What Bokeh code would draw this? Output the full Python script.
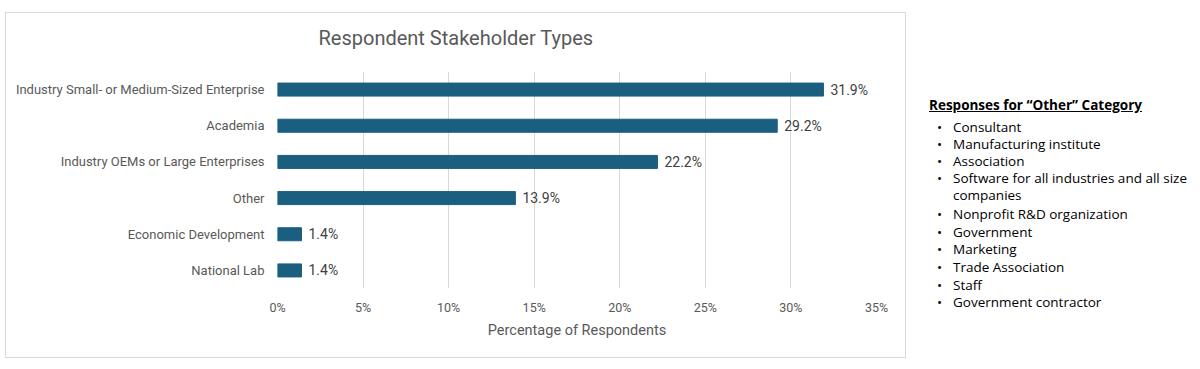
from bokeh.plotting import figure
from bokeh.layouts import row
from bokeh.models import (ColumnDataSource, FactorRange, Range1d, FixedTicker,
                          CustomJSTickFormatter, Div, InlineStyleSheet)
from bokeh.embed import file_html
from bokeh.resources import INLINE
from bokeh.core.properties import value
import html

categories = ["Industry Small- or Medium-Sized Enterprise", "Academia",
              "Industry OEMs or Large Enterprises", "Other",
              "Economic Development", "National Lab"]
percentages = [31.9, 29.2, 22.2, 13.9, 1.4, 1.4]
x_ticks = [0, 5, 10, 15, 20, 25, 30, 35]
title_text = "Respondent Stakeholder Types"
x_label = "Percentage of Respondents"
other_header = "Responses for \u201cOther\u201d Category"
other_items = ["Consultant", "Manufacturing institute", "Association",
               "Software for all industries and all size", "companies",
               "Nonprofit R&D organization", "Government", "Marketing",
               "Trade Association", "Staff", "Government contractor"]
other_bullets = [True, True, True, True, False, True, True, True, True, True, True]

FONT = "Roboto"
SANS = "Open Sans"
GRAY = "#595959"

src = ColumnDataSource(dict(cat=categories, val=percentages,
                            lab=[f"{v:.1f}%" for v in percentages]))

TOTAL_W, H = 1192, 361
W_LEFT = 906
FL, FW, FT, FH = 277, 599, 71, 217
p = figure(width=W_LEFT, height=H, output_backend="svg", toolbar_location=None,
           y_range=FactorRange(factors=categories[::-1], range_padding=0),
           x_range=Range1d(0, 35),
           min_border_left=FL, min_border_right=W_LEFT - FL - FW,
           min_border_top=FT, min_border_bottom=H - FT - FH)
p.outline_line_color = None
p.stylesheets = [InlineStyleSheet(css=(
    ":host { position: relative; }\n"
    ":host::after { content: ''; position: absolute; left: 5px; top: 12px; "
    "width: 901px; height: 346px; box-sizing: border-box; "
    "border: 1.5px solid #d9d9d9; pointer-events: none; z-index: 10; }"))]

p.title.text = title_text
p.title.align = "left"
p.title.offset = 41
p.title.text_font = FONT
p.title.text_font_size = "20px"
p.title.text_font_style = "normal"
p.title.text_color = GRAY
p.title.standoff = 43

p.hbar(y="cat", right="val", left=0, height=0.36, source=src,
       fill_color="#1a5f80", line_color="#1a5f80")
p.text(x="val", y="cat", text="lab", source=src, x_offset=7,
       text_baseline="middle", text_align="left", text_font_size="14px",
       text_color="#404040", text_font=value(FONT))

p.xaxis.ticker = FixedTicker(ticks=x_ticks)
p.xaxis.formatter = CustomJSTickFormatter(code="return tick + '%';")
p.xaxis.axis_line_color = None
p.xaxis.major_tick_line_color = None
p.xaxis.minor_tick_line_color = None
p.xaxis.major_tick_out = 0
p.xaxis.major_tick_in = 0
p.xaxis.minor_tick_out = 0
p.xaxis.major_label_standoff = 11
p.xaxis.major_label_text_font = FONT
p.xaxis.major_label_text_font_size = "12.5px"
p.xaxis.major_label_text_color = GRAY
p.xaxis.axis_label = x_label
p.xaxis.axis_label_text_font = FONT
p.xaxis.axis_label_text_font_size = "14.5px"
p.xaxis.axis_label_text_font_style = "normal"
p.xaxis.axis_label_text_color = GRAY
p.xaxis.axis_label_standoff = 4

p.yaxis.axis_line_color = None
p.yaxis.major_tick_line_color = None
p.yaxis.minor_tick_line_color = None
p.yaxis.major_tick_out = 0
p.yaxis.major_tick_in = 0
p.yaxis.minor_tick_out = 0
p.yaxis.major_label_standoff = 13
p.yaxis.major_label_text_font = FONT
p.yaxis.major_label_text_font_size = "13px"
p.yaxis.major_label_text_color = GRAY

p.xgrid.grid_line_color = "#d9d9d9"
p.ygrid.grid_line_color = None

# notes panel (HTML), positions in pixels relative to the panel
W_RIGHT = TOTAL_W - W_LEFT
header_pos = (18, 100)
bullet_x, text_x = 26, 42
item_y = [122, 139, 156, 173, 190, 209, 227, 244, 262, 280, 297]
LINE_H = 16

parts = [f'<div style="position:relative;width:{W_RIGHT}px;height:{H}px;'
         f'font-family:\'{SANS}\';font-size:13.5px;color:#000;">']
parts.append(f'<div style="position:absolute;left:{header_pos[0]}px;top:{header_pos[1] - LINE_H // 2}px;'
             f'line-height:{LINE_H}px;font-weight:bold;text-decoration:underline;white-space:nowrap;">'
             f'{html.escape(other_header)}</div>')
for yy, item, b in zip(item_y, other_items, other_bullets):
    if b:
        parts.append(f'<div style="position:absolute;left:{bullet_x}px;top:{yy - LINE_H // 2}px;'
                     f'line-height:{LINE_H}px;">\u2022</div>')
    parts.append(f'<div style="position:absolute;left:{text_x}px;top:{yy - LINE_H // 2}px;'
                 f'line-height:{LINE_H}px;white-space:nowrap;">{html.escape(item)}</div>')
parts.append('</div>')
notes = Div(text="".join(parts), width=W_RIGHT, height=H)

layout = row(p, notes, spacing=0)
open("out.html", "w").write(file_html(layout, INLINE))
